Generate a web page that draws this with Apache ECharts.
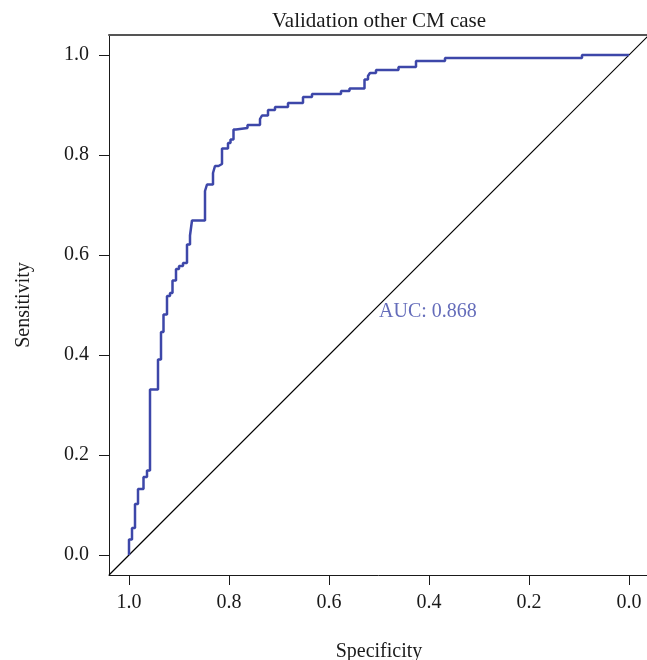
<!DOCTYPE html>
<html>
<head>
<meta charset="utf-8">
<script src="https://cdn.jsdelivr.net/npm/echarts@6/dist/echarts.min.js"></script>
<style>html,body{margin:0;padding:0;background:#fff}#c{width:647px;height:660px}</style>
</head>
<body>
<div id="c"></div>
<script>
// ROC curve vertices (specificity, sensitivity)
var specificity = [1,1,0.994,0.994,0.988,0.988,0.982,0.982,0.971,0.971,0.964,0.964,0.958,0.958,0.942,0.942,0.936,0.936,0.931,0.931,0.924,0.924,0.918,0.918,0.913,0.913,0.906,0.906,0.900,0.900,0.892,0.892,0.884,0.884,0.878,0.878,0.874,0.874,0.848,0.848,0.844,0.844,0.832,0.832,0.828,0.828,0.821,0.821,0.814,0.814,0.802,0.802,0.797,0.797,0.791,0.791,0.786,0.786,0.763,0.763,0.738,0.738,0.734,0.734,0.722,0.722,0.708,0.708,0.682,0.682,0.652,0.652,0.634,0.634,0.576,0.576,0.559,0.559,0.529,0.529,0.522,0.522,0.518,0.518,0.506,0.506,0.461,0.461,0.426,0.426,0.368,0.368,0.094,0.094,0];
var sensitivity = [0,0.031,0.031,0.054,0.054,0.102,0.102,0.132,0.132,0.156,0.156,0.169,0.169,0.331,0.331,0.391,0.391,0.446,0.446,0.481,0.481,0.518,0.518,0.524,0.524,0.549,0.549,0.572,0.572,0.578,0.578,0.584,0.584,0.621,0.621,0.639,0.639,0.669,0.669,0.728,0.728,0.741,0.741,0.764,0.764,0.778,0.778,0.782,0.782,0.813,0.813,0.824,0.824,0.831,0.831,0.851,0.851,0.854,0.854,0.860,0.860,0.872,0.872,0.879,0.879,0.890,0.890,0.896,0.896,0.904,0.904,0.916,0.916,0.922,0.922,0.928,0.928,0.933,0.933,0.951,0.951,0.958,0.958,0.964,0.964,0.970,0.970,0.976,0.976,0.988,0.988,0.994,0.994,1,1];
var xTicks = [1.0, 0.8, 0.6, 0.4, 0.2, 0.0];
var yTicks = [0.0, 0.2, 0.4, 0.6, 0.8, 1.0];
var aucValue = 0.868;
var aucPos = [0.5, 0.5];
var titleText = 'Validation other CM case';
var xName = 'Specificity';
var yName = 'Sensitivity';

var axMin = -0.04, axMax = 1.04;
var FONT = '"Liberation Serif", "DejaVu Serif", serif';
var BLUE = '#3d47a9';

var curve = specificity.map(function (s, i) { return [s, sensitivity[i]]; });
var diag = [[axMax, 1 - axMax], [axMin, 1 - axMin]];

var chart = echarts.init(document.getElementById('c'), null, {renderer: 'canvas'});
chart.setOption({
  animation: false,
  backgroundColor: '#fff',
  grid: {left: 109, top: 35, width: 540, height: 540, containLabel: false, outerBoundsMode: 'none'},
  graphic: [{
    type: 'text', x: 379, y: 21,
    style: {text: titleText, textAlign: 'center', textVerticalAlign: 'middle',
            font: '21px ' + FONT, fill: '#1a1a1a'}
  }],
  xAxis: [{
    type: 'value', inverse: true, min: axMin, max: axMax, position: 'bottom',
    name: xName, nameLocation: 'middle', nameGap: 67,
    nameTextStyle: {fontFamily: FONT, fontSize: 20, color: '#1a1a1a'},
    axisLine: {show: true, onZero: false, lineStyle: {color: '#1a1a1a', width: 1}},
    axisTick: {show: true, customValues: xTicks, length: 10, lineStyle: {color: '#1a1a1a'}},
    axisLabel: {show: true, customValues: xTicks, margin: 18, fontFamily: FONT, fontSize: 20, color: '#1a1a1a',
                formatter: function (v) { return v.toFixed(1); }},
    splitLine: {show: false}
  }, {
    type: 'value', inverse: true, min: axMin, max: axMax, position: 'top',
    axisLine: {show: true, onZero: false, lineStyle: {color: '#555', width: 2}},
    axisTick: {show: false}, axisLabel: {show: false}, splitLine: {show: false}
  }],
  yAxis: {
    type: 'value', min: axMin, max: axMax, position: 'left',
    name: yName, nameLocation: 'middle', nameGap: 75, nameRotate: 90,
    nameTextStyle: {fontFamily: FONT, fontSize: 20, color: '#1a1a1a'},
    axisLine: {show: true, onZero: false, lineStyle: {color: '#1a1a1a', width: 1}},
    axisTick: {show: true, customValues: yTicks, length: 10, lineStyle: {color: '#1a1a1a'}},
    axisLabel: {show: true, customValues: yTicks, margin: 20, fontFamily: FONT, fontSize: 20, color: '#1a1a1a',
                formatter: function (v) { return v.toFixed(1); }},
    splitLine: {show: false}
  },
  series: [{
    type: 'line', data: diag, symbol: 'none', silent: true,
    lineStyle: {color: '#000', width: 1.2}, z: 2
  }, {
    type: 'line', data: curve, symbol: 'none', silent: true,
    lineStyle: {color: BLUE, width: 2.5}, z: 3
  }, {
    type: 'scatter', data: [aucPos], symbolSize: 1, silent: true,
    itemStyle: {color: 'rgba(0,0,0,0)'},
    label: {show: true, position: 'inside', align: 'left', verticalAlign: 'middle', offset: [0, 7],
            formatter: 'AUC: ' + aucValue.toFixed(3), fontFamily: FONT, fontSize: 20, color: BLUE},
    z: 4
  }]
});
</script>
</body>
</html>
